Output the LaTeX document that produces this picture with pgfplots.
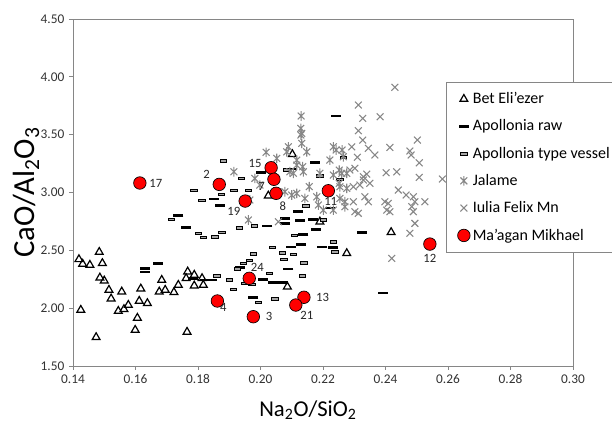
\documentclass[border=0pt]{standalone}
\usepackage{pgfplots}
\pgfplotsset{compat=1.18}
\usepackage{fontspec}
\setmainfont{Carlito}
\definecolor{axgray}{RGB}{134,134,134}
\definecolor{mkgray}{RGB}{135,135,135}
\definecolor{mred}{RGB}{255,0,0}
\pgfdeclareplotmark{xstar}{%
 \pgfpathmoveto{\pgfqpoint{-.7071\pgfplotmarksize}{-.7071\pgfplotmarksize}}%
 \pgfpathlineto{\pgfqpoint{.7071\pgfplotmarksize}{.7071\pgfplotmarksize}}%
 \pgfpathmoveto{\pgfqpoint{-.7071\pgfplotmarksize}{.7071\pgfplotmarksize}}%
 \pgfpathlineto{\pgfqpoint{.7071\pgfplotmarksize}{-.7071\pgfplotmarksize}}%
 \pgfpathmoveto{\pgfqpoint{0pt}{\pgfplotmarksize}}%
 \pgfpathlineto{\pgfqpoint{0pt}{-\pgfplotmarksize}}%
 \pgfusepathqstroke}
\pgfdeclareplotmark{minibar}{%
 \pgfpathrectangle{\pgfqpoint{-\pgfplotmarksize}{-0.4\pgfplotmarksize}}{\pgfqpoint{2\pgfplotmarksize}{0.8\pgfplotmarksize}}%
 \pgfusepathqfillstroke}
\begin{document}
\begin{tikzpicture}
\useasboundingbox (0,0) rectangle (459pt,320.25pt);
\begin{axis}[
  at={(54.75pt,45.75pt)}, anchor=south west,
  scale only axis, width=375pt, height=260.25pt,
  xmin=0.14, xmax=0.30, ymin=1.5, ymax=4.5,
  xtick={0.14,0.16,...,0.30}, ytick={1.5,2,...,4.5},
  axis line style={axgray, line width=0.6pt},
  tick style={axgray, line width=0.6pt},
  tick align=outside, major tick length=3pt,
  xtick pos=bottom, ytick pos=left,
  /pgf/number format/assume math mode=true,
  /pgf/number format/.cd, fixed, fixed zerofill, precision=2, /pgfplots/.cd,
  ticklabel style={font=\fontsize{10}{12}\selectfont, text=black!80},
  xlabel={Na\textsubscript{2}O/SiO\textsubscript{2}},
  ylabel={CaO/Al\textsubscript{2}O\textsubscript{3}},
  xlabel style={at={(axis description cs:0.47,-0.127)}, anchor=center, font=\fontsize{17}{20}\selectfont},
  ylabel style={at={(axis description cs:-0.094,0.5)}, anchor=center, rotate=0, font=\fontsize{23}{26}\selectfont},
  legend style={at={(0.746,0.818)}, anchor=north west, draw=axgray, fill=white,
    font=\fontsize{12}{14}\selectfont, row sep=6.6pt, inner xsep=8.5pt, inner ysep=5.5pt},
  legend cell align=left,
  clip=false,
]
% Bet Eli'ezer
\addplot[only marks, mark=triangle, mark size=3.4pt, black, line width=0.9pt] table {
x y
0.1419 2.422
0.1431 2.382
0.1454 2.373
0.1484 2.485
0.1494 2.388
0.1486 2.263
0.1500 2.237
0.1515 2.157
0.1522 2.082
0.1425 1.984
0.1474 1.748
0.1556 2.142
0.1545 1.975
0.1563 1.990
0.1577 2.027
0.1606 1.915
0.1599 1.811
0.1617 2.168
0.1612 2.062
0.1638 2.042
0.1684 2.243
0.1676 2.142
0.1695 2.157
0.1723 2.137
0.1737 2.200
0.1765 1.794
0.1767 2.315
0.1762 2.258
0.1788 2.287
0.1788 2.194
0.1817 2.200
0.1813 2.258
0.2102 3.330
0.2025 2.972
0.2190 2.747
0.2276 2.474
0.2418 2.656
0.2086 2.185
};
\addlegendentry{Bet Eli'ezer}
% Apollonia raw
\addplot[only marks, mark=-, mark size=3.75pt, black, line width=2pt] table {
x y
0.2174 3.261
0.2241 3.661
0.2002 3.171
0.1851 2.943
0.1870 2.885
0.1737 2.803
0.1761 2.695
0.2022 2.710
0.2078 2.777
0.2078 2.733
0.2126 2.756
0.2169 2.768
0.2177 2.681
0.2119 2.837
0.2222 2.866
0.2137 2.638
0.2097 2.529
0.2129 2.548
0.2198 2.529
0.2233 2.526
0.2101 3.203
0.2089 2.338
0.1934 2.350
0.1977 2.090
0.2009 2.249
0.2039 2.223
0.2071 2.223
0.1822 2.243
0.1785 2.258
0.1844 2.243
0.1630 2.341
0.1630 2.312
0.1672 2.388
0.2324 2.656
0.2392 2.131
};
\addlegendentry{Apollonia raw}
% Apollonia type vessel
\addplot[only marks, mark=minibar, mark size=2.4pt, draw=black, fill=black!35, line width=0.6pt] table {
x y
0.1881 3.272
0.1938 3.122
0.1787 3.019
0.1812 2.932
0.1874 2.984
0.1915 3.019
0.1961 3.019
0.1714 2.768
0.1801 2.647
0.1817 2.612
0.1854 2.615
0.1876 2.656
0.1932 2.693
0.1980 2.710
0.2108 2.630
0.2145 2.883
0.2039 2.526
0.2071 2.479
0.2105 2.465
0.2139 2.393
0.2075 2.422
0.1964 2.414
0.1945 2.388
0.2233 2.574
0.2238 2.488
0.2265 3.304
0.2190 3.142
0.2254 3.114
0.1977 2.468
0.2028 2.301
0.2134 2.278
0.1860 2.280
0.1900 2.243
0.1913 2.163
0.1950 2.215
0.1972 2.206
0.1993 2.051
0.2046 2.082
0.1927 2.338
0.2201 2.762
0.2085 3.194
};
\addlegendentry{\makebox[98pt][l]{Apollonia type vessel}}
% Jalame
\addplot[only marks, mark=xstar, mark size=3.6pt, mkgray, line width=0.8pt] table {
x y
0.1915 3.179
0.2018 3.347
0.2052 3.295
0.2089 3.395
0.2132 3.511
0.2132 3.425
0.2148 3.352
0.2116 3.280
0.2137 3.179
0.2094 3.179
0.1982 3.122
0.1998 3.064
0.2078 3.006
0.2100 2.978
0.2116 2.993
0.2142 2.949
0.1966 2.935
0.2185 2.892
0.2201 2.848
0.2254 2.949
0.2270 2.920
0.2233 3.151
0.2190 3.166
0.2222 3.280
0.2233 3.395
0.2265 3.309
0.2276 3.166
0.1961 2.762
0.2130 3.661
0.2129 3.554
0.2129 3.497
0.2242 3.367
0.2261 3.367
0.2135 3.223
0.2105 3.166
0.2156 3.050
0.2180 2.963
0.2270 2.877
0.2276 3.036
0.2252 3.079
0.2252 3.194
0.2233 2.848
0.2116 3.237
0.2260 3.166
0.2254 3.050
0.2084 3.352
};
\addlegendentry{Jalame}
% Iulia Felix Mn
\addplot[only marks, mark=x, mark size=3.6pt, mkgray, line width=0.8pt] table {
x y
0.2057 2.747
0.2297 3.050
0.2292 3.395
0.2345 3.382
0.2313 3.534
0.2327 3.453
0.2327 3.641
0.2383 3.655
0.2313 3.756
0.2430 3.909
0.2414 3.390
0.2478 3.358
0.2482 3.324
0.2502 3.453
0.2366 3.324
0.2310 3.304
0.2508 3.257
0.2582 3.116
0.2508 3.131
0.2436 3.179
0.2402 3.171
0.2340 3.159
0.2302 3.209
0.2286 3.194
0.2329 3.136
0.2318 3.064
0.2350 3.079
0.2334 2.963
0.2297 2.920
0.2345 2.920
0.2441 3.021
0.2466 2.978
0.2489 2.963
0.2526 2.920
0.2409 2.906
0.2404 2.848
0.2484 2.877
0.2494 2.733
0.2478 2.647
0.2420 2.431
0.2302 2.834
0.2494 2.920
0.2489 2.834
0.2398 2.920
0.2414 2.834
0.2313 2.820
0.2329 3.108
};
\addlegendentry{Iulia Felix Mn}
% Ma'agan Mikhael
\addplot[only marks, mark=*, mark size=4.7pt, draw=black, fill=mred, line width=0.5pt,
  nodes near coords, point meta=explicit symbolic,
  visualization depends on={value \thisrow{dx} \as \dx},
  visualization depends on={value \thisrow{dy} \as \dy},
  every node near coord/.append style={anchor=center, xshift=\dx pt, yshift=\dy pt,
     font=\fontsize{9.5}{11}\selectfont, text=black!85, inner sep=0pt}]
  table[meta=lab] {
x y lab dx dy
0.1614 3.082 17 12 0
0.1868 3.070 2 -9.5 7.5
0.1951 2.926 19 -8.5 -8
0.2034 3.214 15 -12 3.3
0.2043 3.114 7 -9.2 -5
0.2050 2.993 8 5 -9.5
0.2217 3.015 11 1.8 -7.7
0.2542 2.554 12 0 -10.7
0.1964 2.258 24 6 8.25
0.1862 2.062 4 4.5 -5
0.1977 1.926 3 11.75 0
0.2139 2.094 13 14 0
0.2113 2.027 21 8.25 -7.5
};
\addlegendentry{Ma'agan Mikhael}
\end{axis}
\end{tikzpicture}
\end{document}
